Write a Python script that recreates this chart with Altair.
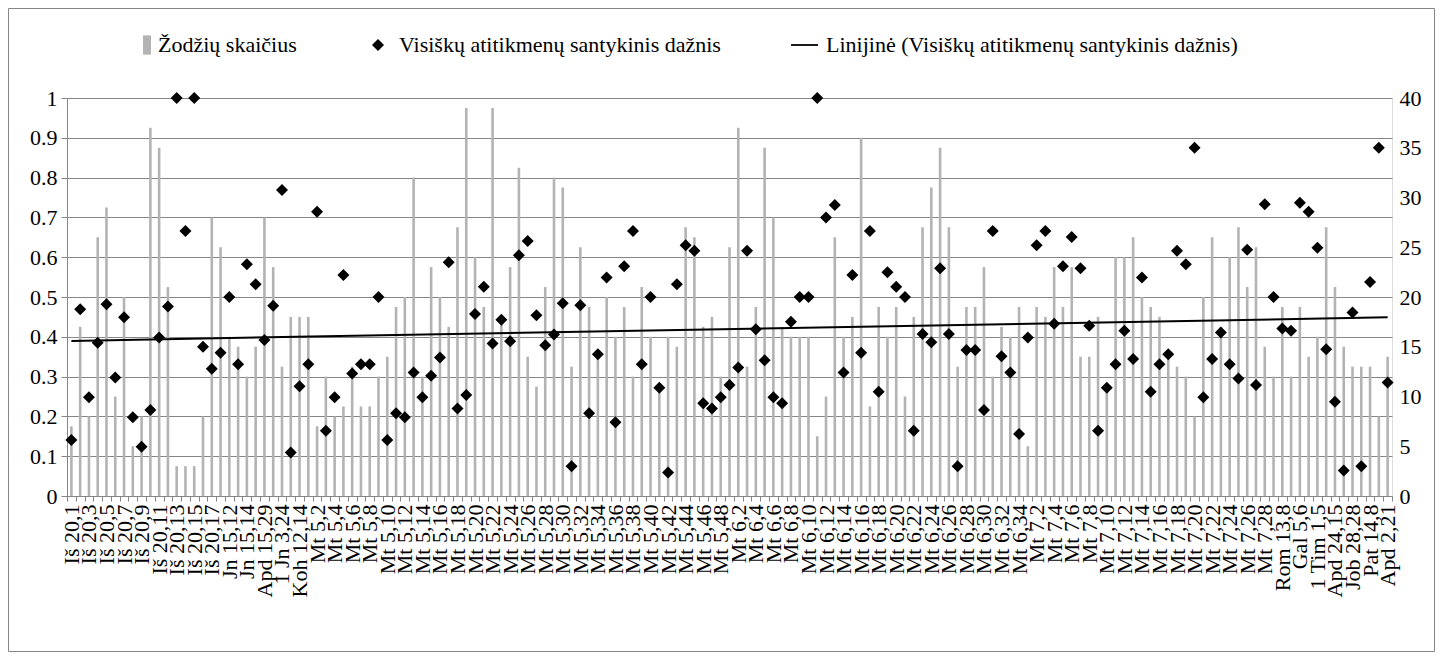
import altair as alt
import pandas as pd

# ---- categories (151 verses; every other one is labelled) ----
cats = ([f"Iš 20,{v}" for v in range(1, 18)]
        + ["Jn 13,34", "Jn 15,12", "Jn 15,13", "Jn 15,14", "Jn 15,17", "Apd 15,29",
           "1 Jn 3,23", "1 Jn 3,24", "Koh 12,13", "Koh 12,14"]
        + [f"Mt 5,{v}" for v in range(1, 49)]
        + [f"Mt 6,{v}" for v in range(1, 35)]
        + [f"Mt 7,{v}" for v in range(1, 30)]
        + ["Rom 13,8", "Rom 13,10", "Gal 5,6", "Gal 5,14", "1 Tim 1,5", "Apd 24,14",
           "Apd 24,15", "Job 28,27", "Job 28,28", "Pat 9,10", "Pat 14,8", "Ps 111,10",
           "Apd 2,21"])

# ---- word counts (right axis) ----
words = [
    7, 17, 8, 26, 29, 10, 20, 5, 8, 37,
    35, 21, 3, 3, 3, 8, 28, 25, 16, 15,
    12, 15, 28, 23, 13, 18, 18, 18, 7, 12,
    8, 9, 13, 9, 9, 12, 14, 19, 20, 32,
    12, 23, 20, 17, 27, 39, 24, 19, 39, 18,
    23, 33, 14, 11, 21, 32, 31, 13, 25, 19,
    14, 20, 16, 19, 12, 21, 16, 11, 16, 15,
    27, 26, 17, 18, 12, 25, 37, 13, 19, 35,
    28, 17, 16, 16, 16, 6, 10, 26, 16, 18,
    36, 9, 19, 16, 19, 10, 18, 27, 31, 35,
    27, 13, 19, 19, 23, 12, 17, 16, 19, 5,
    19, 18, 23, 19, 23, 14, 14, 18, 11, 24,
    24, 26, 20, 19, 18, 14, 13, 12, 8, 20,
    26, 17, 24, 27, 21, 25, 15, 12, 19, 12,
    19, 14, 16, 27, 21, 15, 13, 13, 13, 8,
    14]

# ---- relative frequency of exact matches (left axis) ----
ratio = [
    0.141, 0.469, 0.248, 0.385, 0.482, 0.298, 0.449, 0.198, 0.124, 0.216,
    0.398, 0.476, 1.0, 0.666, 1.0, 0.375, 0.32, 0.36, 0.5, 0.331,
    0.582, 0.532, 0.392, 0.478, 0.769, 0.109, 0.276, 0.331, 0.714, 0.164,
    0.248, 0.555, 0.308, 0.331, 0.331, 0.5, 0.141, 0.208, 0.198, 0.31,
    0.248, 0.302, 0.348, 0.587, 0.22, 0.254, 0.457, 0.526, 0.383, 0.443,
    0.389, 0.605, 0.641, 0.454, 0.379, 0.406, 0.484, 0.075, 0.479, 0.208,
    0.356, 0.549, 0.185, 0.577, 0.666, 0.331, 0.5, 0.272, 0.059, 0.532,
    0.63, 0.616, 0.233, 0.22, 0.248, 0.279, 0.323, 0.616, 0.419, 0.341,
    0.248, 0.233, 0.438, 0.5, 0.5, 1.0, 0.7, 0.731, 0.31, 0.555,
    0.36, 0.666, 0.262, 0.562, 0.526, 0.5, 0.164, 0.407, 0.386, 0.572,
    0.407, 0.075, 0.367, 0.367, 0.216, 0.666, 0.351, 0.31, 0.156, 0.398,
    0.63, 0.666, 0.433, 0.577, 0.651, 0.572, 0.428, 0.164, 0.272, 0.331,
    0.415, 0.344, 0.549, 0.262, 0.331, 0.356, 0.616, 0.582, 0.875, 0.248,
    0.344, 0.411, 0.331, 0.295, 0.619, 0.279, 0.733, 0.5, 0.421, 0.415,
    0.737, 0.714, 0.624, 0.369, 0.237, 0.064, 0.461, 0.075, 0.538, 0.875,
    0.285]

series = ["Žodžių skaičius",
          "Visiškų atitikmenų santykinis dažnis",
          "Linijinė (Visiškų atitikmenų santykinis dažnis)"]

left_ticks = [round(i / 10, 1) for i in range(11)]
right_ticks = list(range(0, 41, 5))

N = len(cats)
df = pd.DataFrame({"cat": cats, "idx": list(range(N)), "words": words,
                   "v": ratio, "series": [series[1]] * N})

FONT = "Liberation Serif"
FS = 22
GRID = "#868686"
BAR = "#b3b3b3"
W, H = 1325, 398
PAD = {"left": 59, "top": 90, "right": 43, "bottom": 156}

bars = alt.Chart(df).mark_bar(color=BAR, width=2.6).encode(
    x=alt.X("cat:N", sort=cats, title=None,
            scale=alt.Scale(paddingInner=0, paddingOuter=0),
            axis=alt.Axis(labelAngle=270, labelFont=FONT, labelFontSize=FS,
                          labelColor="black", labelOverlap=False, labelPadding=3,
                          labelExpr=f"round(datum.index*{N-1}) % 2 == 1 ? '' : datum.label",
                          tickBand="extent", tickSize=5, tickColor=GRID,
                          domainColor=GRID, grid=False)),
    y=alt.Y("words:Q", title=None, scale=alt.Scale(domain=[0, 40], nice=False),
            axis=alt.Axis(orient="right", values=right_ticks, grid=False, ticks=False,
                          domain=False, labelFont=FONT, labelFontSize=FS,
                          labelColor="black", labelPadding=7)),
)

trend = alt.Chart(df).transform_regression("idx", "v", method="linear").mark_line(
    color="black", strokeWidth=2).encode(
    x=alt.X("idx:Q", scale=alt.Scale(domain=[-0.5, N - 0.5], nice=False, zero=False), axis=None),
    y=alt.Y("v:Q", scale=alt.Scale(domain=[0, 1], nice=False), axis=None),
)

bar_sym = "M1.0,-1.6H2.33V1.6H1.0Z"
line_sym = "M-2.33,-0.15H2.17V0.15H-2.33Z"

leg = alt.Legend(title=None, orient="none", legendX=59, legendY=-64,
                 direction="horizontal", labelFont=FONT, labelFontSize=FS,
                 labelColor="black", labelLimit=0, symbolSize=144, labelOffset=10,
                 columnPadding=70, padding=0, symbolStrokeWidth=0)

pts = alt.Chart(df).mark_point(filled=True, size=144, opacity=1).encode(
    x=alt.X("cat:N", sort=cats, axis=None),
    y=alt.Y("v:Q", title=None, scale=alt.Scale(domain=[0, 1], nice=False),
            axis=alt.Axis(orient="left", values=left_ticks, format="~g", grid=True,
                          gridColor=GRID, gridWidth=1, tickColor=GRID, tickSize=6,
                          domainColor=GRID, labelFont=FONT, labelFontSize=FS,
                          labelColor="black", labelPadding=4)),
    shape=alt.Shape("series:N", scale=alt.Scale(domain=series,
                                                range=[bar_sym, "diamond", line_sym]),
                    legend=leg),
    color=alt.Color("series:N", scale=alt.Scale(domain=series,
                                                range=[BAR, "black", "black"]),
                    legend=leg),
)

# outer chart-area border
frame = alt.Chart(pd.DataFrame({"f": [0]})).mark_rect(
    fill=None, stroke=GRID, strokeWidth=1).encode(
    x=alt.value(-PAD["left"] + 0.5), x2=alt.value(W + PAD["right"] - 0.5),
    y=alt.value(-PAD["top"] + 0.5), y2=alt.value(H + PAD["bottom"] - 0.5),
)

chart = alt.layer(frame, bars, trend, pts).resolve_scale(
    x="independent", y="independent"
).properties(
    width=W, height=H,
    autosize=alt.AutoSizeParams(type="none"),
    padding=PAD,
).configure_view(stroke=None).configure(background="white", font=FONT)

chart.save("out.html", embed_options={"renderer": "svg", "actions": False})
